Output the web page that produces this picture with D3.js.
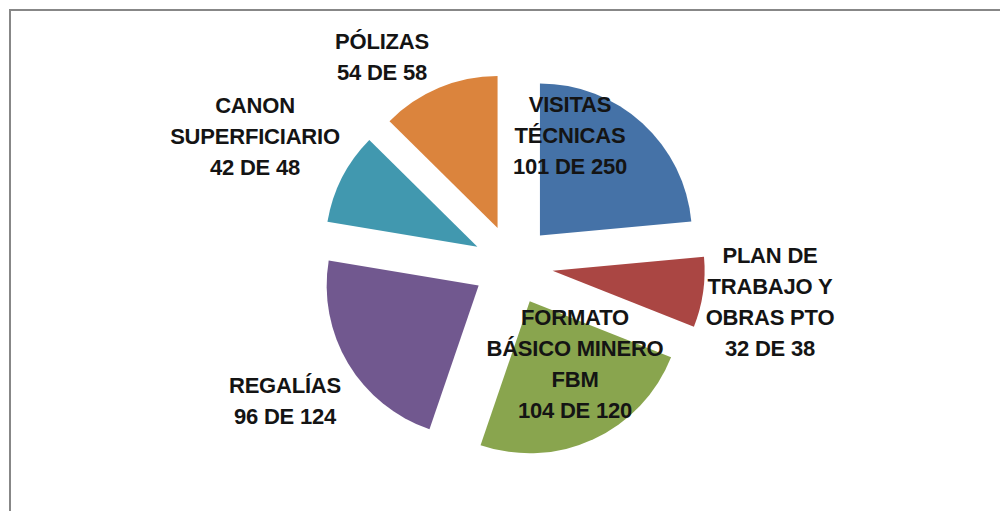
<!DOCTYPE html>
<html>
<head>
<meta charset="utf-8">
<script src="https://cdn.jsdelivr.net/npm/d3@7"></script>
<style>
  html, body { margin: 0; padding: 0; background: #fff; }
  svg { display: block; }
</style>
</head>
<body>
<svg id="chart" width="1000" height="511"></svg>
<script>
// ---- data ----
const categories = ["VISITAS TÉCNICAS", "PLAN DE TRABAJO Y OBRAS PTO", "FORMATO BÁSICO MINERO FBM", "REGALÍAS", "CANON SUPERFICIARIO", "PÓLIZAS"];
const labelLines = [
  ["VISITAS", "TÉCNICAS"],
  ["PLAN DE", "TRABAJO Y", "OBRAS PTO"],
  ["FORMATO", "BÁSICO MINERO", "FBM"],
  ["REGALÍAS"],
  ["CANON", "SUPERFICIARIO"],
  ["PÓLIZAS"]
];
const doneValues = [101, 32, 104, 96, 42, 54];
const totalValues = [250, 38, 120, 124, 48, 58];
const colors = ["#4572A7", "#AA4643", "#89A54E", "#71588F", "#4198AF", "#DB843D"];

// ---- layout (label anchor positions: center x, first baseline y) ----
const labelX = [570, 770, 575, 285, 255, 382];
const labelY = [112, 263, 325, 393, 113, 49];
const lineGap = 31;

const svg = d3.select("#chart");
const cx = 513, cy = 265, R = 152, explode = 40;

// frame
svg.append("rect").attr("x", 10).attr("y", 10).attr("width", 1000).attr("height", 600)
  .attr("fill", "#fff").attr("stroke", "#878787").attr("stroke-width", 2);

const data = categories.map((c, i) => ({ name: c, value: doneValues[i], total: totalValues[i], i }));
const pie = d3.pie().value(d => d.value).sort(null);
const arcs = pie(data);
const arc = d3.arc().innerRadius(0).outerRadius(R);

const g = svg.append("g").attr("transform", `translate(${cx},${cy})`);
g.selectAll("path").data(arcs).join("path")
  .attr("d", arc)
  .attr("fill", d => colors[d.data.i])
  .attr("transform", d => {
    const a = (d.startAngle + d.endAngle) / 2;
    return `translate(${explode * Math.sin(a)},${-explode * Math.cos(a)})`;
  });

// labels
const lab = svg.append("g")
  .attr("font-family", "'Liberation Sans', Arial, sans-serif")
  .attr("font-weight", "bold")
  .attr("font-size", 22)
  .attr("fill", "#141414")
  .attr("text-anchor", "middle");

data.forEach((d, i) => {
  const lines = labelLines[i].concat([`${d.value} DE ${d.total}`]);
  const t = lab.append("text").attr("x", labelX[i]).attr("y", labelY[i]).attr("letter-spacing", -0.2);
  lines.forEach((ln, k) => {
    t.append("tspan").attr("x", labelX[i]).attr("y", labelY[i] + k * lineGap).text(ln);
  });
});
</script>
</body>
</html>
